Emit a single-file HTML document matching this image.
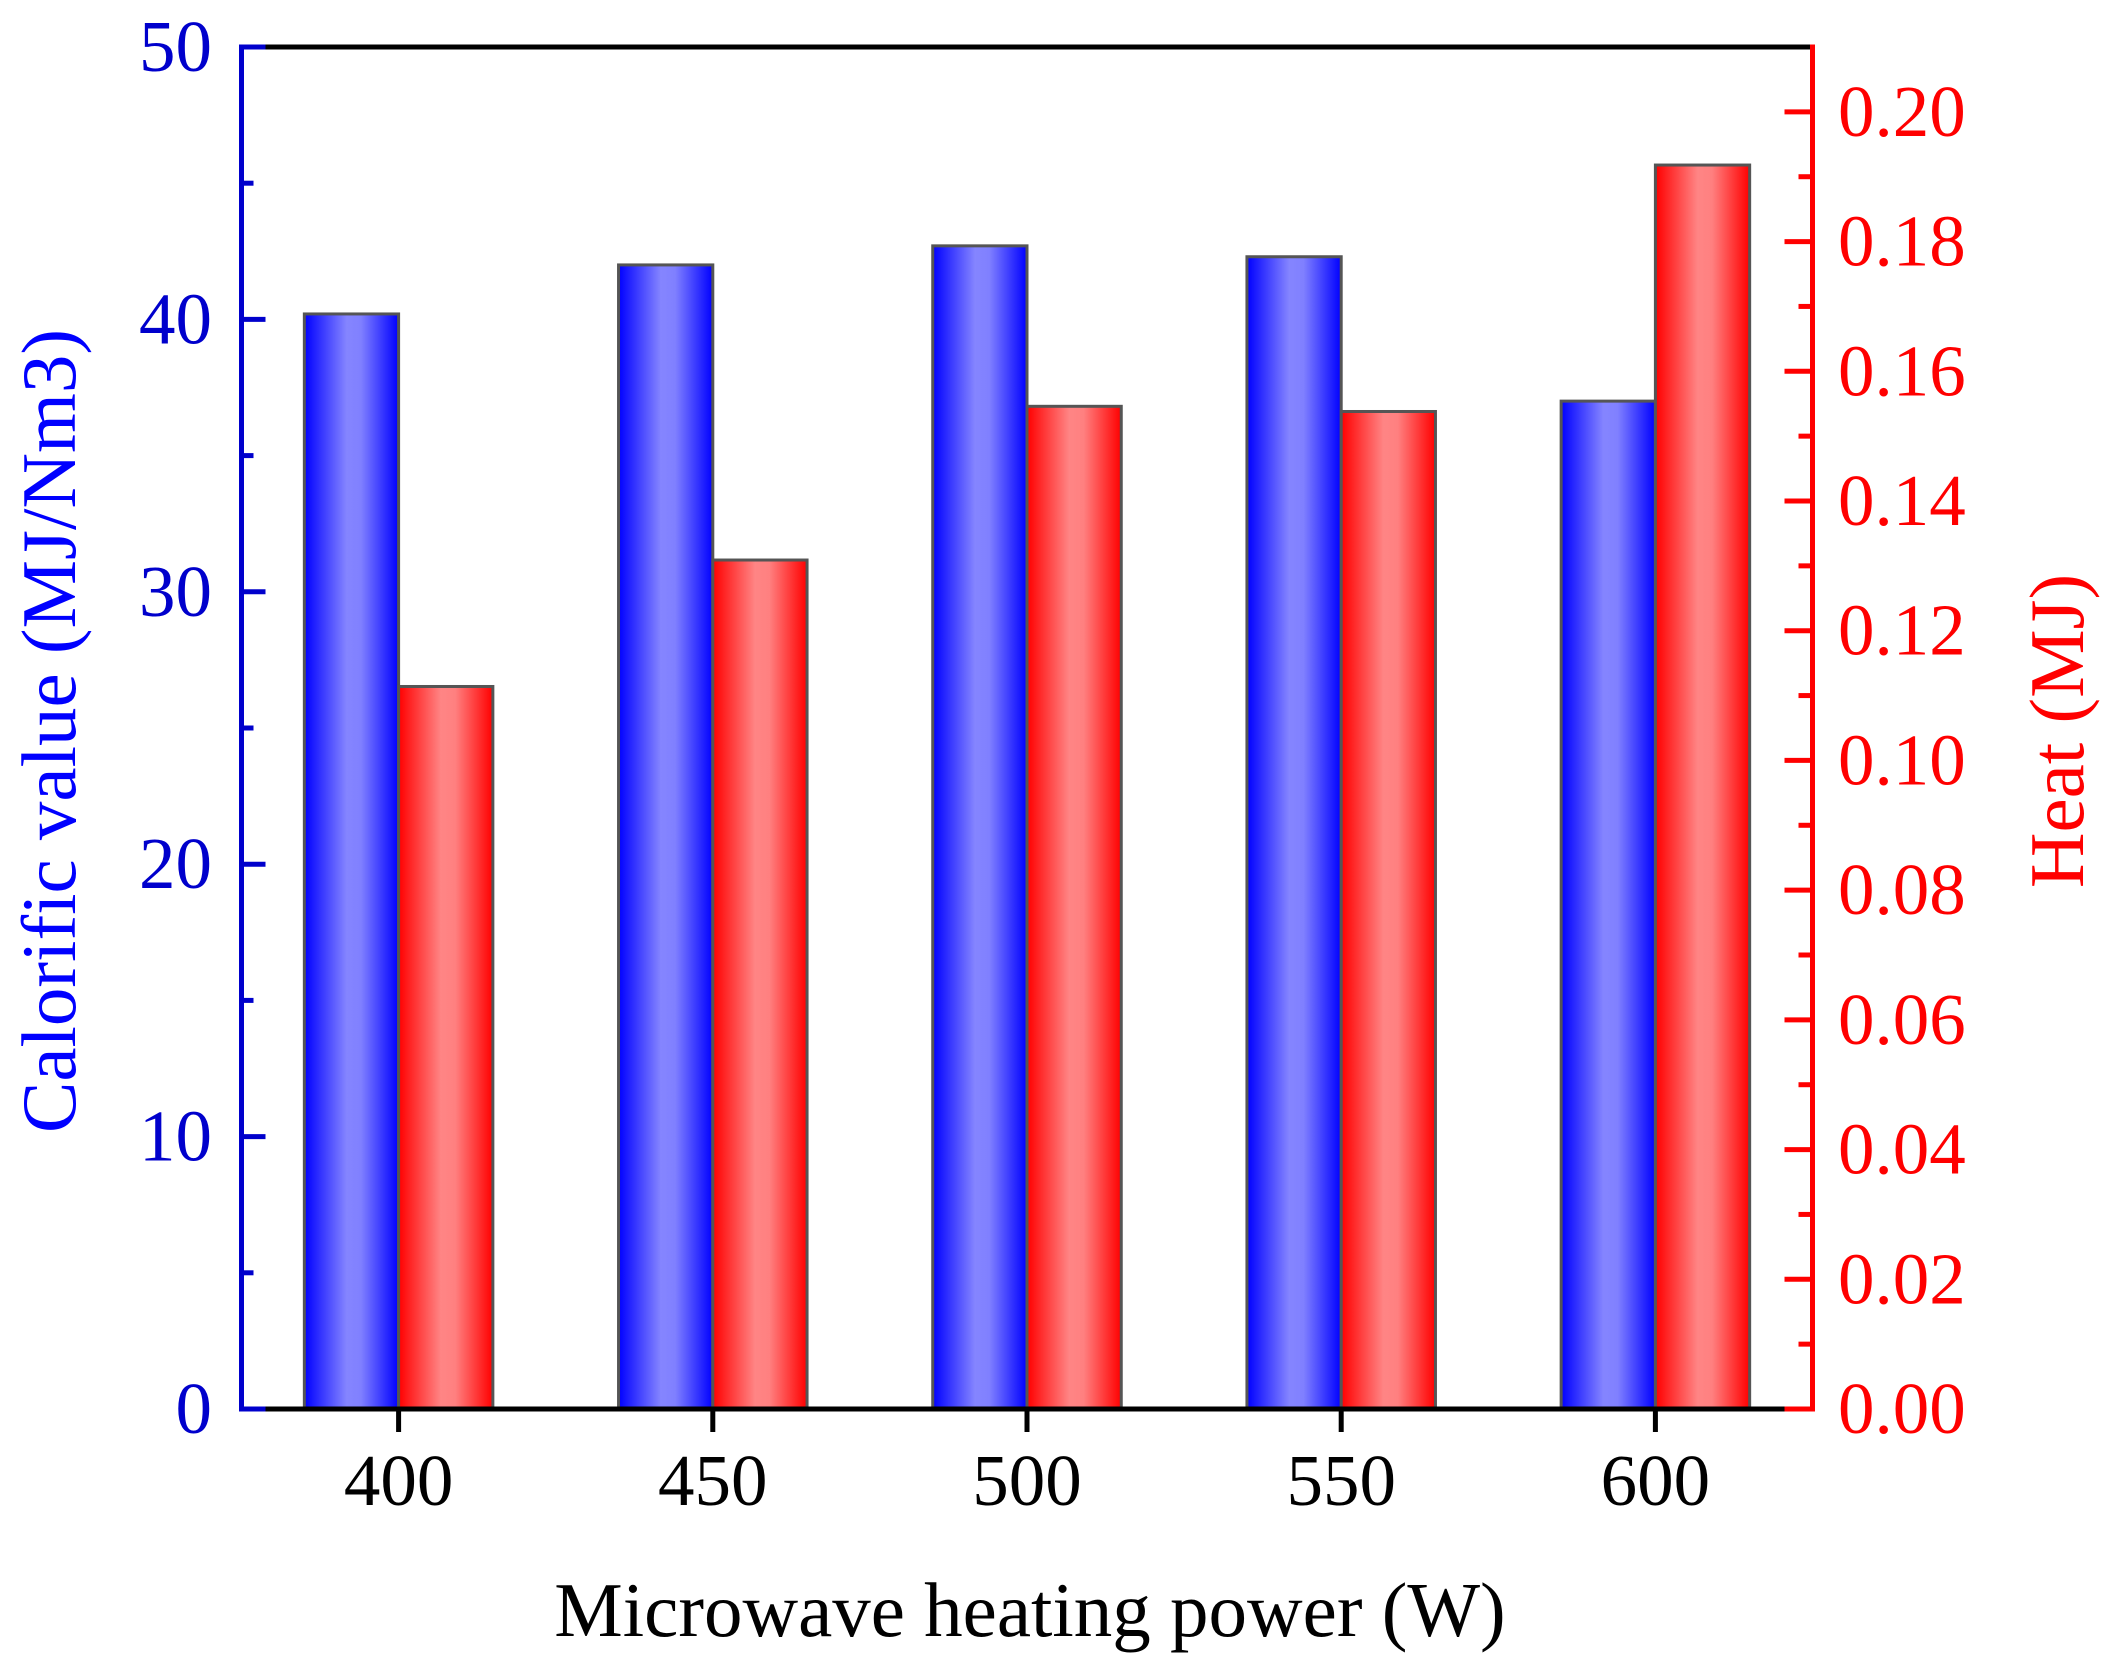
<!DOCTYPE html>
<html><head><meta charset="utf-8"><style>
html,body{margin:0;padding:0;background:#fff;}
svg{display:block;font-family:"Liberation Serif",serif;}
</style></head><body>
<svg id="chart" width="2113" height="1664" viewBox="0 0 2113 1664" xmlns="http://www.w3.org/2000/svg">
<defs>
<linearGradient id="gb" x1="0" x2="1" y1="0" y2="0">
<stop offset="0" stop-color="#0000ff"/><stop offset="0.45" stop-color="#8585ff"/><stop offset="0.6" stop-color="#8080ff"/><stop offset="1" stop-color="#0000ff"/></linearGradient>
<linearGradient id="gr" x1="0" x2="1" y1="0" y2="0">
<stop offset="0" stop-color="#ff0000"/><stop offset="0.45" stop-color="#ff8585"/><stop offset="0.6" stop-color="#ff8080"/><stop offset="1" stop-color="#ff0000"/></linearGradient>
</defs>
<g id="bars"></g>
<g id="axes"></g>
<text x="1030" y="1636" text-anchor="middle" font-size="77" fill="#000">Microwave heating power (W)</text>
<text transform="translate(75,731) rotate(-90)" text-anchor="middle" font-size="77" fill="#0000ff">Calorific value (MJ/Nm3)</text>
<text transform="translate(2083,731) rotate(-90)" text-anchor="middle" font-size="77" fill="#ff0000">Heat (MJ)</text>
</svg>
<script>
const categories = [400, 450, 500, 550, 600];
const calorificValues = [40.2, 42.0, 42.7, 42.3, 37.0];
const heatValues = [0.1114, 0.1309, 0.1546, 0.1538, 0.1918];
const leftTicks = [0, 10, 20, 30, 40, 50];
const rightTicks = ["0.00","0.02","0.04","0.06","0.08","0.10","0.12","0.14","0.16","0.18","0.20"];

const NS = "http://www.w3.org/2000/svg";
const L = 241.5, R = 1812.5, T = 47, B = 1409;
const xMin = 375, xMax = 625, lMax = 50, rMax = 0.21;
const xs = v => L + (v - xMin) / (xMax - xMin) * (R - L);
const yl = v => B - v / lMax * (B - T);
const yr = v => B - v / rMax * (B - T);
const barW = 15 / (xMax - xMin) * (R - L);

function mk(tag, attrs, parent) {
  const e = document.createElementNS(NS, tag);
  for (const k in attrs) e.setAttribute(k, attrs[k]);
  parent.appendChild(e);
  return e;
}
const bars = document.getElementById('bars');
const axes = document.getElementById('axes');

categories.forEach((c, i) => {
  const xc = xs(c);
  const b = mk('rect', {x: xc - barW, y: yl(calorificValues[i]), width: barW, height: B - yl(calorificValues[i]), fill: 'url(#gb)', stroke: '#555', 'stroke-width': 3}, bars);
  
  
  const r = mk('rect', {x: xc, y: yr(heatValues[i]), width: barW, height: B - yr(heatValues[i]), fill: 'url(#gr)', stroke: '#555', 'stroke-width': 3}, bars);
  
  
});

let a;
a = mk('line', {x1: L, y1: T, x2: R, y2: T, stroke: '#000', 'stroke-width': 5}, axes);


a = mk('line', {x1: L - 2, y1: B, x2: R, y2: B, stroke: '#000', 'stroke-width': 5}, axes);


a = mk('line', {x1: L, y1: T - 2.5, x2: L, y2: B + 2.5, stroke: '#0000cc', 'stroke-width': 5}, axes);


a = mk('line', {x1: R, y1: T - 2.5, x2: R, y2: B + 2.5, stroke: '#ff0000', 'stroke-width': 5}, axes);



leftTicks.forEach(v => {
  const y = yl(v);
  const t = mk('line', {x1: L, y1: y, x2: L + 24, y2: y, stroke: '#0000cc', 'stroke-width': 5}, axes);
  
  
  const tx = mk('text', {x: 212, y: y + 24, 'text-anchor': 'end', 'font-size': 73, fill: '#0000cc'}, axes);
  tx.textContent = v;
  
  
  if (v < lMax) {
    const m = mk('line', {x1: L, y1: yl(v + 5), x2: L + 12, y2: yl(v + 5), stroke: '#0000cc', 'stroke-width': 5}, axes);
    
    
  }
});
rightTicks.forEach(s => {
  const v = parseFloat(s);
  const y = yr(v);
  const t = mk('line', {x1: R, y1: y, x2: R - 28, y2: y, stroke: '#ff0000', 'stroke-width': 5}, axes);
  
  
  const tx = mk('text', {x: 1838, y: y + 24, 'text-anchor': 'start', 'font-size': 73, fill: '#ff0000'}, axes);
  tx.textContent = s;
  
  
  if (v + 0.01 < rMax) {
    const m = mk('line', {x1: R, y1: yr(v + 0.01), x2: R - 14, y2: yr(v + 0.01), stroke: '#ff0000', 'stroke-width': 5}, axes);
    
    
  }
});
categories.forEach(c => {
  const x = xs(c);
  const t = mk('line', {x1: x, y1: B, x2: x, y2: B + 23, stroke: '#000', 'stroke-width': 5}, axes);
  
  
  const tx = mk('text', {x: x, y: 1505, 'text-anchor': 'middle', 'font-size': 73, fill: '#000'}, axes);
  tx.textContent = c;
  
  
});
</script>
</body></html>
